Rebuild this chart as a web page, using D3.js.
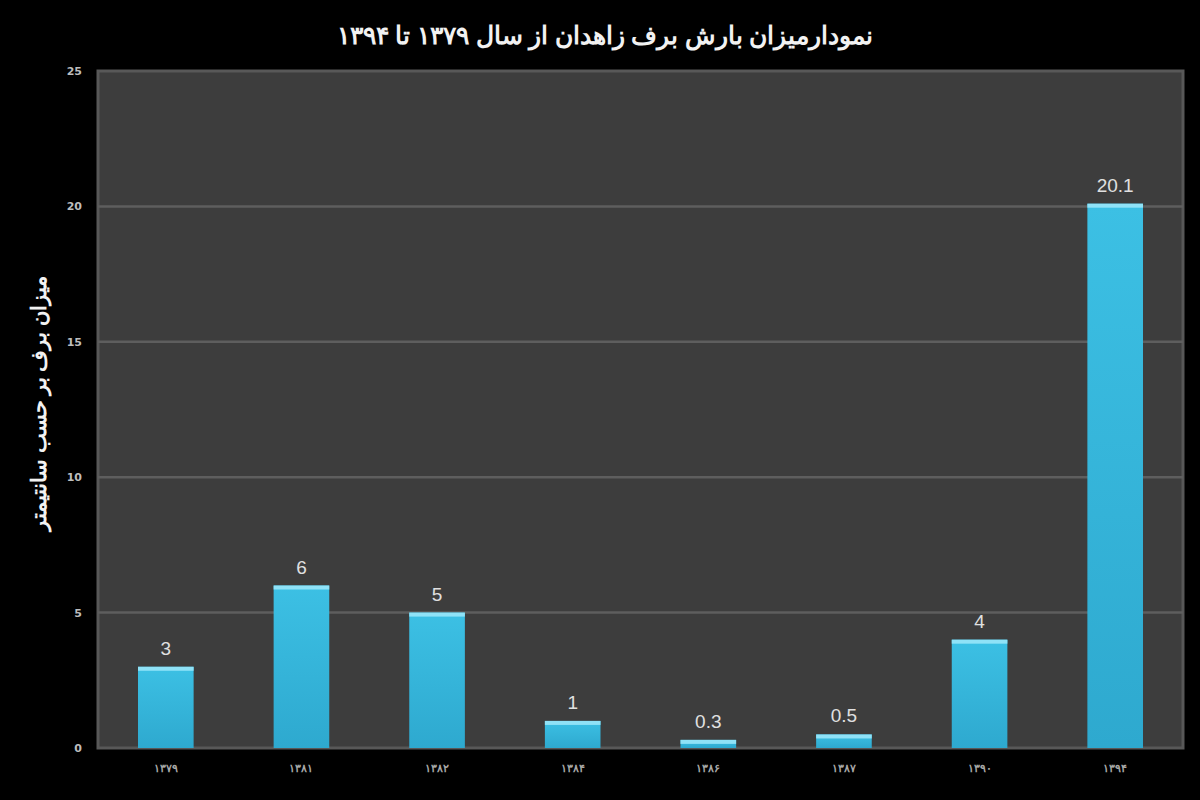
<!DOCTYPE html>
<html>
<head>
<meta charset="utf-8">
<script src="https://cdn.jsdelivr.net/npm/d3@7"></script>
<style>
  body { margin: 0; background: #000; }
  svg { display: block; }
</style>
</head>
<body>
<div id="chart"></div>
<script>
// data
const years = ["۱۳۷۹", "۱۳۸۱", "۱۳۸۲", "۱۳۸۴", "۱۳۸۶", "۱۳۸۷", "۱۳۹۰", "۱۳۹۴"];
const snow = [3, 6, 5, 1, 0.3, 0.5, 4, 20.1];
const yTicks = [0, 5, 10, 15, 20, 25];
const title = "نمودارمیزان بارش برف زاهدان از سال ۱۳۷۹ تا ۱۳۹۴";
const yTitle = "میزان برف بر حسب سانتیمتر";

const width = 1200;
const height = 800;
const margin = { top: 71, right: 17, bottom: 52, left: 98 };
const innerW = width - margin.left - margin.right;
const innerH = height - margin.top - margin.bottom;

const svg = d3.select("#chart").append("svg")
  .attr("width", width)
  .attr("height", height)
  .style("background", "#000");

// gradient for the bars
const defs = svg.append("defs");
const grad = defs.append("linearGradient")
  .attr("id", "barGrad")
  .attr("x1", 0).attr("y1", 0).attr("x2", 0).attr("y2", 1);
grad.append("stop").attr("offset", "0%").attr("stop-color", "#3cc0e4");
grad.append("stop").attr("offset", "100%").attr("stop-color", "#2ea9cf");

const g = svg.append("g")
  .attr("transform", `translate(${margin.left},${margin.top})`);

const x = d3.scaleBand().domain(years).range([0, innerW]).paddingInner(0.59).paddingOuter(0.295);
const y = d3.scaleLinear().domain([0, 25]).range([innerH, 0]);

// plot area
g.append("rect")
  .attr("width", innerW)
  .attr("height", innerH)
  .attr("fill", "#3d3d3d")
  .attr("stroke", "#585858")
  .attr("stroke-width", 3);

// gridlines
g.append("g")
  .selectAll("line")
  .data(yTicks.slice(1, -1))
  .join("line")
  .attr("x1", 0)
  .attr("x2", innerW)
  .attr("y1", d => y(d))
  .attr("y2", d => y(d))
  .attr("stroke", "#5e5e5e")
  .attr("stroke-width", 2.5);

// y axis
const yAxis = g.append("g")
  .call(d3.axisLeft(y).tickValues(yTicks).tickSize(0).tickPadding(16));
yAxis.select(".domain").remove();
yAxis.selectAll("text")
  .attr("fill", "#bdbdbd")
  .style("font-family", "DejaVu Sans, sans-serif")
  .style("font-size", "11px")
  .style("font-weight", "bold");

// x axis
const xAxis = g.append("g")
  .attr("transform", `translate(0,${innerH})`)
  .call(d3.axisBottom(x).tickSize(0).tickPadding(16));
xAxis.select(".domain").remove();
xAxis.selectAll("text")
  .attr("fill", "#a8a8a8")
  .style("font-family", "Noto Sans, sans-serif")
  .style("font-size", "11px")
  .style("font-weight", "bold");

// bars
const bars = g.append("g")
  .selectAll("g")
  .data(years.map((yr, i) => ({ yr, v: snow[i] })))
  .join("g");

bars.append("rect")
  .attr("x", d => x(d.yr))
  .attr("y", d => y(d.v))
  .attr("width", x.bandwidth())
  .attr("height", d => innerH - y(d.v))
  .attr("fill", "url(#barGrad)");

bars.append("rect")
  .attr("x", d => x(d.yr))
  .attr("y", d => y(d.v))
  .attr("width", x.bandwidth())
  .attr("height", d => Math.min(4, innerH - y(d.v)))
  .attr("fill", "#8fe2f7");

// value labels
bars.append("text")
  .attr("x", d => x(d.yr) + x.bandwidth() / 2)
  .attr("y", d => y(d.v) - 12)
  .attr("text-anchor", "middle")
  .attr("fill", "#e0e0e0")
  .style("font-family", "Liberation Sans, sans-serif")
  .style("font-size", "19px")
  .text(d => d.v);

// title
svg.append("text")
  .attr("x", 605)
  .attr("y", 44)
  .attr("text-anchor", "middle")
  .attr("fill", "#f2f2f2")
  .style("font-family", "Noto Sans, sans-serif")
  .style("font-size", "25px")
  .style("font-weight", "bold")
  .attr("direction", "rtl")
  .text(title);

// y axis title
svg.append("text")
  .attr("transform", `translate(46,${margin.top + innerH / 2 - 6}) rotate(-90)`)
  .attr("text-anchor", "middle")
  .attr("fill", "#f2f2f2")
  .style("font-family", "Noto Sans, sans-serif")
  .style("font-size", "21px")
  .style("font-weight", "bold")
  .text(yTitle);
</script>
</body>
</html>
